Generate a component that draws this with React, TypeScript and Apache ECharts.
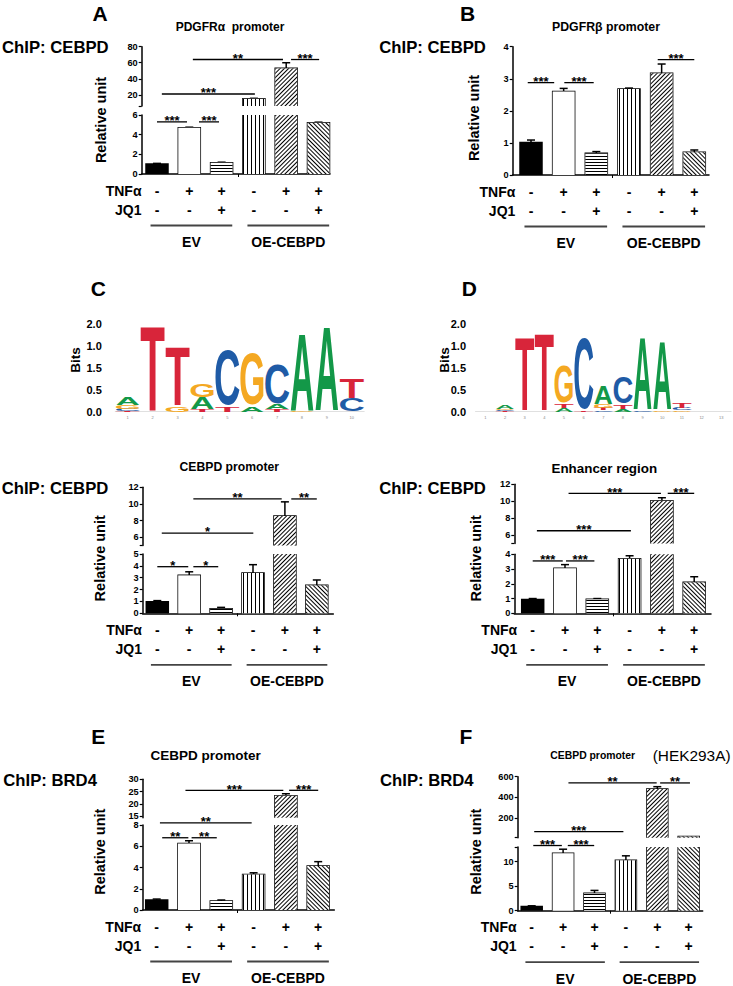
import React, { useEffect, useRef } from 'react';
import * as echarts from 'echarts';

const FONT = '"Liberation Sans", Arial, Helvetica, sans-serif';

// ---------- shared condition rows ----------
const barPositions = [1, 2, 3, 4, 5, 6];
const tnfRow = ['-', '+', '+', '-', '+', '+'];
const jq1Row = ['-', '-', '+', '-', '-', '+'];
const rowNames = ['TNFα', 'JQ1'];
const groupNames = ['EV', 'OE-CEBPD'];
const groupRanges = [[0.8, 3.33], [3.8, 6.33]];

// ---------- Panel A : PDGFRα promoter ----------
const aMeans = [1.02, 4.7, 1.15, 15, 53, 5.22];
const aErrs = [0.06, 0.06, 0.05, 0.6, 7, 0.05];
const aLowerTicks = [0, 2, 4, 6];
const aUpperTicks = [20, 40, 60, 80];
const aSig = [[1.0, 1.93, 5.3, 0], [2.3, 2.92, 5.3, 0], [1.15, 4.03, 21, 1], [2.11, 4.9, 64, 1], [5.15, 6.02, 64, 1]];
const aSigText = ['***', '***', '***', '**', '***'];

// ---------- Panel B : PDGFRβ promoter ----------
const bMeans = [1.01, 2.6, 0.675, 2.68, 3.17, 0.71];
const bErrs = [0.08, 0.1, 0.055, 0.03, 0.29, 0.07];
const bTicks = [0, 1, 2, 3, 4];
const bSig = [[0.9, 1.71, 2.88, 0], [2.02, 2.92, 2.88, 0], [4.88, 6.0, 3.6, 0]];
const bSigText = ['***', '***', '***'];

// ---------- CEBPD promoter (ChIP: CEBPD) ----------
const cMeans = [0.97, 3.2, 0.38, 3.4, 8.55, 2.36];
const cErrs = [0.1, 0.3, 0.12, 0.7, 1.7, 0.45];
const cLowerTicks = [0, 1, 2, 3, 4, 5];
const cUpperTicks = [6, 8, 10, 12];
const cSig = [[1.0, 1.97, 3.93, 0], [2.13, 2.91, 3.93, 0], [1.14, 4.01, 6.48, 1], [2.13, 4.9, 10.6, 1], [5.2, 6.0, 10.6, 1]];
const cSigText = ['*', '*', '*', '**', '**'];

// ---------- Enhancer region ----------
const dMeans = [0.93, 3.05, 0.95, 3.7, 10.06, 2.1];
const dErrs = [0.07, 0.25, 0.05, 0.2, 0.35, 0.38];
const dLowerTicks = [0, 1, 2, 3, 4];
const dUpperTicks = [6, 8, 10, 12];
const dSig = [[1.0, 1.93, 3.55, 0], [2.03, 2.91, 3.55, 0], [1.13, 4.04, 6.5, 1], [2.11, 4.97, 10.93, 1], [5.18, 6.0, 10.93, 1]];
const dSigText = ['***', '***', '***', '***', '***'];

// ---------- Panel E : CEBPD promoter (ChIP: BRD4) ----------
const eMeans = [0.94, 6.27, 0.85, 3.35, 23.3, 4.14];
const eErrs = [0.09, 0.25, 0.09, 0.15, 0.8, 0.41];
const eLowerTicks = [0, 2, 4, 6, 8];
const eUpperTicks = [15, 20, 25, 30];
const eSig = [[1.17, 1.98, 6.8, 0], [2.08, 2.86, 6.8, 0], [1.1, 3.94, 8.2, 0], [1.89, 4.92, 25.5, 1], [5.1, 6.0, 25.5, 1]];
const eSigText = ['**', '**', '**', '***', '***'];

// ---------- Panel F : CEBPD promoter (HEK293A) ----------
const fMeans = [0.85, 11.7, 3.54, 10.3, 482, 25];
const fErrs = [0.15, 0.85, 0.6, 0.9, 22, 0];
const fLowerTicks = [0, 5, 10];
const fUpperTicks = [200, 400, 600];
const fSig = [[1.05, 1.96, 13.3, 0], [2.15, 2.99, 13.3, 0], [1.08, 3.92, 71, 1], [2.17, 4.98, 540, 1], [5.09, 6.04, 540, 1]];
const fSigText = ['***', '***', '***', '**', '**'];

// ---------- Sequence logos (bottom -> top, bits) ----------
const logoYLabels = ['0.0', '0.5', '1.5', '1.0', '2.0'];
const logoC: [string, number][][] = [
  [['T', 0.02], ['C', 0.05], ['G', 0.09], ['A', 0.19]],
  [['T', 1.98]],
  [['G', 0.13], ['T', 1.37]],
  [['T', 0.06], ['A', 0.27], ['G', 0.31]],
  [['T', 0.13], ['C', 1.33]],
  [['A', 0.13], ['G', 1.22]],
  [['T', 0.06], ['A', 0.12], ['C', 0.94]],
  [['G', 0.02], ['A', 1.8]],
  [['A', 1.95]],
  [['C', 0.31], ['T', 0.46]],
];
const logoD: [string, number][][] = [
  [],
  [['T', 0.015], ['C', 0.02], ['G', 0.03], ['A', 0.08]],
  [['G', 0.01], ['A', 0.01], ['T', 1.7]],
  [['A', 0.01], ['T', 1.79]],
  [['A', 0.08], ['T', 0.1], ['G', 0.88]],
  [['T', 0.02], ['C', 1.7]],
  [['C', 0.03], ['T', 0.06], ['G', 0.08], ['A', 0.41]],
  [['A', 0.07], ['T', 0.1], ['C', 0.64]],
  [['C', 0.02], ['A', 1.66]],
  [['G', 0.03], ['A', 1.58]],
  [['G', 0.03], ['C', 0.06], ['T', 0.12]],
  [],
  [],
];
const letterColors: Record<string, string> = { A: '#139848', C: '#1f5ba6', G: '#f4a822', T: '#d8253a' };
const glyph: Record<string, { w: number; h: number }> = {
  A: { w: 0.70, h: 0.716 }, C: { w: 0.64, h: 0.74 }, G: { w: 0.69, h: 0.74 }, T: { w: 0.58, h: 0.716 },
};

// ---------- styling helpers ----------
function stripe(rot: number, w: number, gap: number) {
  return {
    symbol: 'rect', symbolSize: 1, symbolKeepAspect: false, color: '#000',
    dashArrayX: [8, 0], dashArrayY: [w, gap], rotation: rot,
  };
}
const barStyles = [
  { color: '#000' },
  { color: '#fff' },
  { color: '#fff', decal: stripe(0, 1, 1.8) },
  { color: '#fff', decal: stripe(Math.PI / 2, 1, 2.3) },
  { color: '#fff', decal: stripe(-Math.PI / 4, 1, 1.4) },
  { color: '#fff', decal: stripe(Math.PI / 4, 1, 1.8) },
];

type Seg = { top: number; bottom: number; min: number; max: number; ticks: number[]; extra: number[] };
type Panel = {
  left: number; right: number; c1: number; step: number; barW: number;
  lower: Seg; upper?: Seg; means: number[]; errs: number[]; sig: number[][]; sigText: string[];
};

const panels: Panel[] = [
  { left: 141.7, right: 330, c1: 157, step: 32.3, barW: 22,
    lower: { top: 115, bottom: 174, min: 0, max: 6, ticks: aLowerTicks, extra: [] },
    upper: { top: 46.7, bottom: 106, min: 6, max: 80, ticks: aUpperTicks, extra: [6] },
    means: aMeans, errs: aErrs, sig: aSig, sigText: aSigText },
  { left: 512.7, right: 709, c1: 531, step: 32.66, barW: 22,
    lower: { top: 46.7, bottom: 175, min: 0, max: 4, ticks: bTicks, extra: [] },
    means: bMeans, errs: bErrs, sig: bSig, sigText: bSigText },
  { left: 142.7, right: 333.3, c1: 157.3, step: 31.9, barW: 22,
    lower: { top: 554, bottom: 613.3, min: 0, max: 5, ticks: cLowerTicks, extra: [] },
    upper: { top: 487.3, bottom: 545.5, min: 5, max: 12, ticks: cUpperTicks, extra: [5] },
    means: cMeans, errs: cErrs, sig: cSig, sigText: cSigText },
  { left: 514.3, right: 711, c1: 532.7, step: 32.3, barW: 22,
    lower: { top: 554.3, bottom: 613.3, min: 0, max: 4, ticks: dLowerTicks, extra: [] },
    upper: { top: 484.3, bottom: 543.4, min: 5, max: 12, ticks: dUpperTicks, extra: [5] },
    means: dMeans, errs: dErrs, sig: dSig, sigText: dSigText },
  { left: 142.7, right: 334.3, c1: 156.7, step: 32.3, barW: 22,
    lower: { top: 825, bottom: 910, min: 0, max: 8, ticks: eLowerTicks, extra: [] },
    upper: { top: 779.3, bottom: 817.7, min: 14.3, max: 30, ticks: eUpperTicks, extra: [] },
    means: eMeans, errs: eErrs, sig: eSig, sigText: eSigText },
  { left: 517.7, right: 702.7, c1: 531.7, step: 31.4, barW: 21,
    lower: { top: 847, bottom: 910.7, min: 0, max: 13, ticks: fLowerTicks, extra: [13] },
    upper: { top: 776.7, bottom: 837.7, min: 13, max: 600, ticks: fUpperTicks, extra: [13] },
    means: fMeans, errs: fErrs, sig: fSig, sigText: fSigText },
];

const ROW_NAME_X = 0.52;

function txt(text: string, size: number, extra: any = {}) {
  return {
    text, fontSize: size, fontWeight: 'bold', fontFamily: FONT, fill: '#000',
    align: 'center', verticalAlign: 'middle', textAlign: 'center', textVerticalAlign: 'middle', ...extra,
  };
}

function buildOption() {
  const grid: any[] = [];
  const xAxis: any[] = [];
  const yAxis: any[] = [];
  const series: any[] = [];
  const axisLineStyle = { color: '#000', width: 1.5 };

  panels.forEach((p) => {
    const xmin = 1 - (p.c1 - p.left) / p.step;
    const xmax = xmin + (p.right - p.left) / p.step;
    const segs = p.upper ? [p.lower, p.upper] : [p.lower];
    segs.forEach((seg, si) => {
      const gi = grid.length;
      grid.push({ left: p.left, top: seg.top, width: p.right - p.left, height: seg.bottom - seg.top });
      xAxis.push({
        type: 'value', gridIndex: gi, min: xmin, max: xmax, show: si === 0, position: 'bottom',
        axisLine: { show: true, onZero: false, lineStyle: axisLineStyle },
        axisTick: { show: true, customValues: [3.5], length: 3, lineStyle: { color: '#000', width: 1 } },
        axisLabel: { show: false }, splitLine: { show: false },
      });
      yAxis.push({
        type: 'value', gridIndex: gi, min: seg.min, max: seg.max, position: 'left',
        axisLine: { show: true, onZero: false, lineStyle: axisLineStyle },
        axisTick: { show: true, customValues: [...seg.ticks, ...seg.extra], length: 3, lineStyle: { color: '#000', width: 1.2 } },
        axisLabel: { show: true, customValues: seg.ticks, fontSize: 9.2, fontWeight: 'bold', fontFamily: FONT, color: '#000', margin: 4 },
        splitLine: { show: false },
      });
      // bars (fill + pattern)
      series.push({
        type: 'bar', xAxisIndex: gi, yAxisIndex: gi, barWidth: p.barW, clip: true, silent: true,
        data: p.means.map((v, i) => ({ value: [barPositions[i], v], itemStyle: barStyles[i] })),
      });
      // bar outlines + error bars
      series.push({
        type: 'custom', xAxisIndex: gi, yAxisIndex: gi, silent: true,
        data: p.means.map((v, i) => [barPositions[i], v, p.errs[i]]),
        renderItem: (params: any, api: any) => {
          const x = api.value(0), v = api.value(1), e = api.value(2);
          if (!(v > seg.min)) return null;
          const base = api.coord([x, seg.min]);
          const cx = base[0], yb = base[1];
          const yt = api.coord([x, Math.min(v, seg.max)])[1];
          const hw = p.barW / 2;
          const st = { stroke: '#000', lineWidth: 1.5, fill: 'none' };
          const children: any[] = [];
          if (v <= seg.max) {
            children.push({ type: 'polyline', shape: { points: [[cx - hw, yb], [cx - hw, yt], [cx + hw, yt], [cx + hw, yb]] }, style: st });
            if (e > 0) {
              const ye = api.coord([x, Math.min(v + e, seg.max)])[1];
              children.push({ type: 'line', shape: { x1: cx, y1: yt, x2: cx, y2: ye }, style: { stroke: '#000', lineWidth: 1.5 } });
              children.push({ type: 'line', shape: { x1: cx - 4, y1: ye, x2: cx + 4, y2: ye }, style: { stroke: '#000', lineWidth: 1.5 } });
            }
          } else {
            children.push({ type: 'line', shape: { x1: cx - hw, y1: yb, x2: cx - hw, y2: yt }, style: st });
            children.push({ type: 'line', shape: { x1: cx + hw, y1: yb, x2: cx + hw, y2: yt }, style: st });
          }
          return { type: 'group', children };
        },
      });
      // significance brackets
      const idxs = p.sig.map((_, k) => k).filter((k) => p.sig[k][3] === si);
      if (idxs.length) {
        series.push({
          type: 'custom', xAxisIndex: gi, yAxisIndex: gi, silent: true,
          data: idxs.map((k) => [p.sig[k][0], p.sig[k][2], p.sig[k][1]]),
          renderItem: (params: any, api: any) => {
            const k = idxs[params.dataIndex];
            const y = api.value(1);
            const a = api.coord([api.value(0), y]);
            const b = api.coord([api.value(2), y]);
            return {
              type: 'group', children: [
                { type: 'line', shape: { x1: a[0], y1: a[1], x2: b[0], y2: b[1] }, style: { stroke: '#000', lineWidth: 1.3 } },
                { type: 'text', x: (a[0] + b[0]) / 2, y: a[1] - 1.3, style: txt(p.sigText[k], 13) },
              ],
            };
          },
        });
      }
      if (si === 0) {
        // +/- rows
        series.push({
          type: 'custom', xAxisIndex: gi, yAxisIndex: gi, silent: true,
          data: barPositions.map((x) => [x, 0]),
          renderItem: (params: any, api: any) => {
            const i = params.dataIndex;
            const pt = api.coord([api.value(0), 0]);
            return {
              type: 'group', children: [
                { type: 'text', x: pt[0], y: pt[1] + 16.5, style: txt(tnfRow[i], 14) },
                { type: 'text', x: pt[0], y: pt[1] + 35.5, style: txt(jq1Row[i], 14) },
              ],
            };
          },
        });
        // group lines and names, row names
        series.push({
          type: 'custom', xAxisIndex: gi, yAxisIndex: gi, silent: true,
          data: groupRanges.map((r) => [r[0], 0, r[1]]),
          renderItem: (params: any, api: any) => {
            const i = params.dataIndex;
            const a = api.coord([api.value(0), 0]);
            const b = api.coord([api.value(2), 0]);
            const children: any[] = [
              { type: 'line', shape: { x1: a[0], y1: a[1] + 51.5, x2: b[0], y2: b[1] + 51.5 }, style: { stroke: '#444', lineWidth: 1.8 } },
              { type: 'text', x: (a[0] + b[0]) / 2, y: a[1] + 68, style: txt(groupNames[i], 14) },
            ];
            if (i === 0) {
              const r = api.coord([ROW_NAME_X, 0]);
              children.push({ type: 'text', x: r[0], y: r[1] + 16.5, style: txt(rowNames[0], 14, { align: 'right', textAlign: 'right' }) });
              children.push({ type: 'text', x: r[0], y: r[1] + 35.5, style: txt(rowNames[1], 14, { align: 'right', textAlign: 'right' }) });
            }
            return { type: 'group', children };
          },
        });
      }
    });
  });

  // ---------- sequence logos ----------
  const logos = [
    { cols: logoC, left: 115.25, right: 364.2, labelMargin: 13.5 },
    { cols: logoD, left: 475.5, right: 731.1, labelMargin: 9.5 },
  ];
  logos.forEach((lg) => {
    const gi = grid.length;
    grid.push({ left: lg.left, top: 324.3, width: lg.right - lg.left, height: 87.4 });
    xAxis.push({
      type: 'value', gridIndex: gi, min: 0.5, max: lg.cols.length + 0.5,
      axisLine: { show: true, onZero: false, lineStyle: { color: '#d8d8d8', width: 0.8 } },
      axisTick: { show: false },
      axisLabel: { show: true, customValues: lg.cols.map((_, i) => i + 1), fontSize: 4, color: '#888', margin: 4, fontFamily: FONT },
      splitLine: { show: false },
    });
    yAxis.push({
      type: 'value', gridIndex: gi, min: 0, max: 2,
      axisLine: { show: false, onZero: false }, axisTick: { show: false }, splitLine: { show: false },
      axisLabel: {
        show: true, customValues: [0, 0.5, 1, 1.5, 2],
        formatter: (v: number) => logoYLabels[Math.round(v * 2)],
        fontSize: 11, fontWeight: 'bold', fontFamily: FONT, color: '#000', margin: lg.labelMargin,
      },
    });
    const recs: { col: number; y0: number; h: number; L: string }[] = [];
    lg.cols.forEach((stack, ci) => {
      let y0 = 0;
      stack.forEach(([L, h]) => { recs.push({ col: ci + 1, y0, h, L }); y0 += h; });
    });
    series.push({
      type: 'custom', xAxisIndex: gi, yAxisIndex: gi, silent: true,
      data: recs.map((r) => [r.col, r.y0, r.y0 + r.h]),
      renderItem: (params: any, api: any) => {
        const r = recs[params.dataIndex];
        const c = api.value(0);
        const pb = api.coord([c, api.value(1)]);
        const pt = api.coord([c, api.value(2)]);
        const pl = api.coord([c - 0.5, 0]);
        const pr = api.coord([c + 0.5, 0]);
        const H = pb[1] - pt[1];
        if (H < 0.4) return null;
        const W = (pr[0] - pl[0]) * 0.94;
        const m = glyph[r.L];
        const F = 40;
        return {
          type: 'text', x: pb[0], y: (pb[1] + pt[1]) / 2,
          scaleX: W / (m.w * F), scaleY: H / (m.h * F),
          style: txt(r.L, F, { fill: letterColors[r.L] }),
        };
      },
    });
  });

  // ---------- free texts ----------
  const elements: any[] = [];
  const letters = [['A', 100, 13], ['B', 467.7, 13], ['C', 98.3, 288.3], ['D', 469.3, 288.3], ['E', 98.3, 736.7], ['F', 466, 736.7]];
  letters.forEach(([t, x, y]) => elements.push({ type: 'text', x, y, style: txt(t as string, 21) }));
  const titles = [
    ['PDGFRα  promoter', 230, 27, 12], ['PDGFRβ promoter', 606, 27, 12.3],
    ['CEBPD promoter', 229.3, 467.3, 12.2], ['Enhancer region', 604.3, 468.3, 13.4],
    ['CEBPD promoter', 205.7, 755, 13.5], ['CEBPD promoter', 592.7, 755, 10.4],
  ];
  titles.forEach(([t, x, y, s]) => elements.push({ type: 'text', x, y, style: txt(t as string, s as number) }));
  elements.push({ type: 'text', x: 652.7, y: 755, style: txt('(HEK293A)', 15.4, { fontWeight: 'normal', align: 'left', textAlign: 'left' }) });
  const chips = [
    ['ChIP: CEBPD', 2, 47], ['ChIP: CEBPD', 379.3, 47], ['ChIP: CEBPD', 1.7, 488.3],
    ['ChIP: CEBPD', 379.3, 488.3], ['ChIP: BRD4', 3.3, 780], ['ChIP: BRD4', 380, 780],
  ];
  chips.forEach(([t, x, y]) => elements.push({ type: 'text', x, y, style: txt(t as string, 16.7, { align: 'left', textAlign: 'left' }) }));
  const rel = [[101, 120], [474, 118], [100, 558.3], [476, 558.3], [100, 851.7], [476, 851.7]];
  rel.forEach(([x, y]) => elements.push({ type: 'text', x, y, rotation: Math.PI / 2, style: txt('Relative unit', 14.5) }));
  [[75, 360], [444, 360]].forEach(([x, y]) => elements.push({ type: 'text', x, y, rotation: Math.PI / 2, style: txt('Bits', 13.5) }));

  return {
    animation: false,
    backgroundColor: '#fff',
    grid, xAxis, yAxis, series,
    graphic: { elements },
  };
}

export default function App() {
  const ref = useRef<HTMLDivElement>(null);
  useEffect(() => {
    const chart = echarts.init(ref.current as HTMLDivElement, null, { renderer: 'svg', width: 733, height: 986 });
    chart.setOption(buildOption() as any);
    return () => chart.dispose();
  }, []);
  return <div ref={ref} style={{ position: 'absolute', left: 0, top: 0, width: 733, height: 986, background: '#fff' }} />;
}
